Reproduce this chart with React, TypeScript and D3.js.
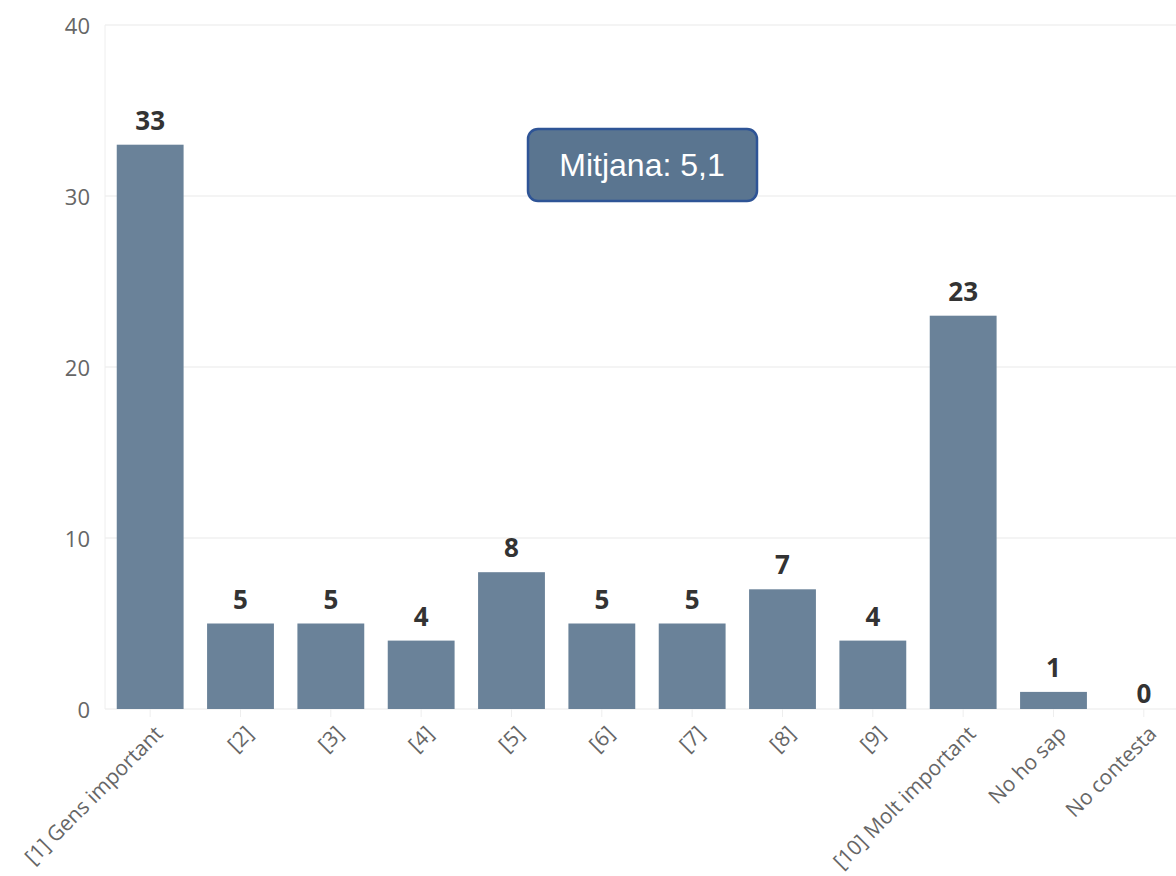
import React from "react";
import * as d3 from "d3";

const categories = [
  "[1] Gens important",
  "[2]",
  "[3]",
  "[4]",
  "[5]",
  "[6]",
  "[7]",
  "[8]",
  "[9]",
  "[10] Molt important",
  "No ho sap",
  "No contesta",
];
const values = [33, 5, 5, 4, 8, 5, 5, 7, 4, 23, 1, 0];
const yTicks = [0, 10, 20, 30, 40];
const annotation = "Mitjana: 5,1";

const W = 1176;
const H = 876;
const left = 105;
const y0 = 709;
const yTop = 25;

export default function App() {
  const x = d3
    .scaleBand<string>()
    .domain(categories)
    .range([left, 1189])
    .paddingInner(0.26)
    .paddingOuter(0.13);
  const y = d3.scaleLinear().domain([0, 40]).range([y0, yTop]);
  const font = "'Open Sans', 'DejaVu Sans', sans-serif";

  return (
    <svg
      width={W}
      height={H}
      style={{ position: "absolute", left: 0, top: 0, background: "#fff" }}
    >
      {yTicks.map((t) => (
        <g key={t}>
          <line x1={left} x2={W} y1={y(t)} y2={y(t)} stroke="#e9e9e9" strokeWidth={1.2} />
          <text
            x={90}
            y={y(t)}
            textAnchor="end"
            dominantBaseline="central"
            fontFamily={font}
            fontSize={22}
            fill="#666"
          >
            {t}
          </text>
        </g>
      ))}
      <line x1={left} x2={left} y1={yTop} y2={y0} stroke="#eeeeee" strokeWidth={1} />
      {categories.map((c, i) => {
        const cx = (x(c) as number) + x.bandwidth() / 2;
        const v = values[i];
        return (
          <g key={c}>
            <line x1={cx} x2={cx} y1={y0} y2={y0 + 8} stroke="#eeeeee" />
            <rect
              x={x(c)}
              y={y(v)}
              width={x.bandwidth()}
              height={y0 - y(v)}
              fill="#6a8299"
            />
            <text
              x={cx}
              y={y(v) - (v > 0 ? 15 : 6)}
              textAnchor="middle"
              fontFamily={font}
              fontWeight={700}
              fontSize={26}
              fill="#333"
            >
              {v}
            </text>
            <text
              transform={`translate(${cx + 14},${y0 + 26}) rotate(-45)`}
              textAnchor="end"
              fontFamily={font}
              fontSize={21}
              fill="#666"
            >
              {c}
            </text>
          </g>
        );
      })}
      <rect
        x={528}
        y={129}
        width={229}
        height={72}
        rx={10}
        fill="#5a7590"
        stroke="#2e5496"
        strokeWidth={2.5}
      />
      <text
        x={642}
        y={165}
        textAnchor="middle"
        dominantBaseline="central"
        fontFamily="'Liberation Sans', Arial, sans-serif"
        fontSize={32}
        fill="#fff"
      >
        {annotation}
      </text>
    </svg>
  );
}
